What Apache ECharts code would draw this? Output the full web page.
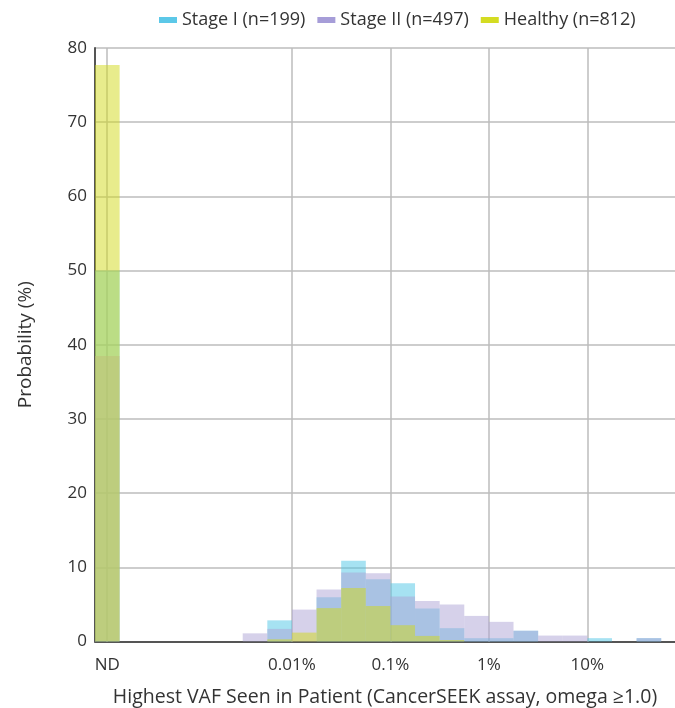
<!DOCTYPE html>
<html>
<head>
<meta charset="utf-8">
<script src="https://cdn.jsdelivr.net/npm/echarts@6/dist/echarts.min.js"></script>
<style>
  html, body { margin: 0; padding: 0; background: #fff; }
  #main { width: 675px; height: 708px; }
</style>
</head>
<body>
<div id="main"></div>
<script>
// bin start, log10(VAF %) ; first bin is "ND" (not detected), drawn at the far left
const binStart = ['ND', -2.5, -2.25, -2, -1.75, -1.5, -1.25, -1, -0.75, -0.5, -0.25, 0, 0.25, 0.5, 0.75, 1, 1.25, 1.5];
const binWidth = 0.25;
const ndStart = -4;

// probability (%) per bin
const stageI  = [50.0, 0, 2.85, 0, 5.95, 10.9, 8.4, 7.85, 4.45, 1.8, 0.45, 0.45, 1.45, 0, 0, 0.45, 0, 0.45];
const stageII = [38.5, 1.1, 1.7, 4.3, 7.0, 9.3, 9.2, 6.05, 5.45, 5.0, 3.45, 2.65, 1.45, 0.8, 0.8, 0, 0, 0.45];
const healthy = [77.7, 0, 0.3, 1.2, 4.5, 7.2, 4.8, 2.2, 0.75, 0.2, 0, 0, 0, 0, 0, 0, 0, 0];

// x tick labels (log10 position -> text)
const tickPos = [-3.875, -2, -1, 0, 1];
const tickText = ['ND', '0.01%', '0.1%', '1%', '10%'];

const FONT = 'Open Sans';

function toBins(values) {
    return values.map((v, i) => {
        const s = binStart[i] === 'ND' ? ndStart : binStart[i];
        return [s, s + binWidth, v];
    }).filter(d => d[2] > 0);
}

function histSeries(name, values, fill, z) {
    return {
        name: name,
        type: 'custom',
        z: z,
        itemStyle: { color: fill },
        encode: { x: [0, 1], y: 2 },
        data: toBins(values),
        renderItem: function (params, api) {
            const p0 = api.coord([api.value(0), api.value(2)]);
            const p1 = api.coord([api.value(1), 0]);
            return {
                type: 'rect',
                shape: { x: p0[0], y: p0[1], width: p1[0] - p0[0], height: p1[1] - p0[1] },
                style: { fill: fill }
            };
        }
    };
}

var myChart = echarts.init(document.getElementById('main'));
const healthyS = histSeries('Healthy (n=812)', healthy, 'rgba(210,218,26,0.5)', 4);
// vertical grid lines sit behind the bars
healthyS.markLine = {
    silent: true,
    z: 1,
    symbol: 'none',
    label: { show: false },
    lineStyle: { color: '#bdbdbd', width: 1.5, type: 'solid' },
    data: tickPos.map(p => ({ xAxis: p }))
};

myChart.setOption({
    animation: false,
    textStyle: { fontFamily: FONT },
    legend: {
        top: 6,
        left: 154,
        itemWidth: 18,
        itemHeight: 6,
        itemGap: 12,
        icon: 'rect',
        textStyle: { fontFamily: FONT, fontSize: 18, color: '#333' },
        data: [
            { name: 'Stage I (n=199)', itemStyle: { color: '#5cc8e8', opacity: 1 } },
            { name: 'Stage II (n=497)', itemStyle: { color: '#a69dd8', opacity: 1 } },
            { name: 'Healthy (n=812)', itemStyle: { color: '#d4dc22', opacity: 1 } }
        ]
    },
    grid: { left: 95, right: 0, top: 48, bottom: 66.5, outerBoundsMode: 'none' },
    xAxis: {
        type: 'value',
        min: -4,
        max: 1.89,
        name: 'Highest VAF Seen in Patient (CancerSEEK assay, omega \u22651.0)',
        nameLocation: 'middle',
        nameGap: 46,
        nameTextStyle: { fontFamily: FONT, fontSize: 19.5, color: '#333' },
        axisLine: { show: true, lineStyle: { color: '#555', width: 2 } },
        axisTick: { show: false },
        splitLine: { show: false },
        axisLabel: {
            customValues: tickPos,
            margin: 15,
            fontFamily: FONT,
            fontSize: 17,
            color: '#333',
            formatter: v => {
                const i = tickPos.findIndex(p => Math.abs(p - v) < 1e-6);
                return i >= 0 ? tickText[i] : '';
            }
        }
    },
    yAxis: {
        type: 'value',
        min: 0,
        max: 80,
        interval: 10,
        name: 'Probability (%)',
        nameLocation: 'middle',
        nameGap: 60,
        nameTextStyle: { fontFamily: FONT, fontSize: 19, color: '#333' },
        axisLine: { show: true, onZero: false, lineStyle: { color: '#555', width: 2 } },
        axisTick: { show: false },
        splitLine: { lineStyle: { color: '#bdbdbd', width: 1.5 } },
        axisLabel: { margin: 8, fontFamily: FONT, fontSize: 17, color: '#333' }
    },
    series: [
        histSeries('Stage I (n=199)', stageI, 'rgba(78,197,230,0.5)', 2),
        histSeries('Stage II (n=497)', stageII, 'rgba(173,163,214,0.5)', 3),
        healthyS
    ]
});
</script>
</body>
</html>
